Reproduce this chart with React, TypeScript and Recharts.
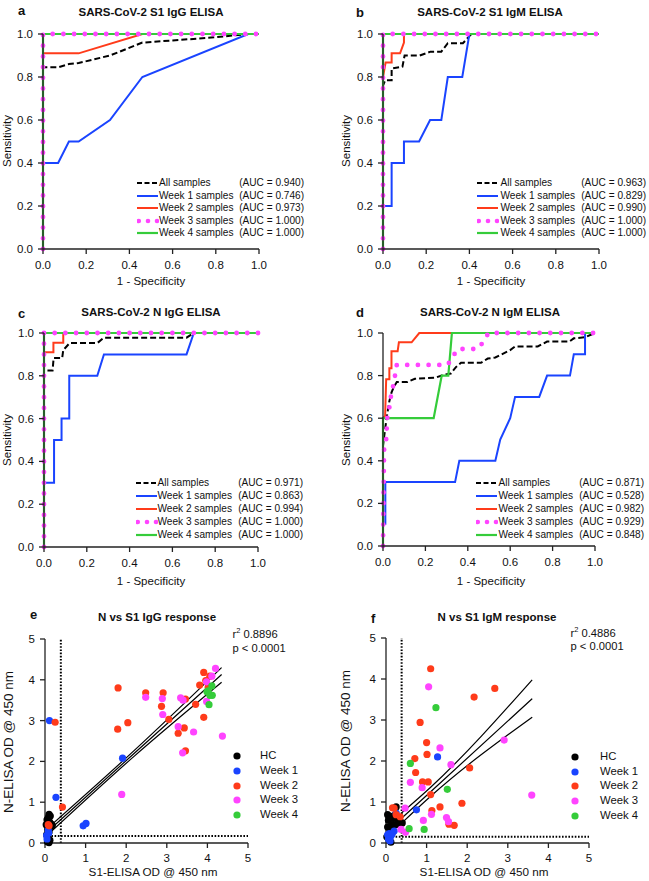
import React from 'react';
import { LineChart, Line, XAxis, YAxis, ComposedChart, Scatter, ReferenceLine } from 'recharts';

const FONT = '"Liberation Sans", Arial, Helvetica, sans-serif';

type Pt = [number, number];
const toXY = (pts: Pt[]) => pts.map(([x, y]) => ({ x, y }));

// ---- ROC curves (1 - specificity, sensitivity) ----
const rocTicks = [0, 0.2, 0.4, 0.6, 0.8, 1];
const rocNames = ['All samples', 'Week 1 samples', 'Week 2 samples', 'Week 3 samples', 'Week 4 samples'];
const aucA = ['0.940', '0.746', '0.973', '1.000', '1.000'];
const aucB = ['0.963', '0.829', '0.990', '1.000', '1.000'];
const aucC = ['0.971', '0.863', '0.994', '1.000', '1.000'];
const aucD = ['0.871', '0.528', '0.982', '0.929', '0.848'];

const perfect: Pt[] = [[0, 0], [0, 1], [1, 1]];

const aAll: Pt[] = [[0, 0], [0, 0.845], [0.07, 0.845], [0.12, 0.86], [0.165, 0.865], [0.31, 0.9], [0.46, 0.96], [0.6, 0.97], [0.8, 0.985], [0.95, 1], [1, 1]];
const aW1: Pt[] = [[0, 0], [0, 0.4], [0.07, 0.4], [0.12, 0.5], [0.165, 0.5], [0.31, 0.6], [0.46, 0.8], [0.95, 1], [1, 1]];
const aW2: Pt[] = [[0, 0], [0, 0.91], [0.165, 0.91], [0.46, 1], [1, 1]];

const bAll: Pt[] = [[0, 0], [0, 0.76], [0.01, 0.785], [0.04, 0.785], [0.04, 0.84], [0.09, 0.848], [0.1, 0.9], [0.17, 0.9], [0.22, 0.918], [0.27, 0.918], [0.3, 0.957], [0.37, 0.957], [0.4, 0.99], [0.41, 1], [1, 1]];
const bW1: Pt[] = [[0, 0], [0, 0.2], [0.04, 0.2], [0.04, 0.4], [0.097, 0.4], [0.097, 0.5], [0.167, 0.5], [0.218, 0.6], [0.27, 0.6], [0.3, 0.8], [0.367, 0.8], [0.4, 1], [1, 1]];
const bW2: Pt[] = [[0, 0], [0, 0.8], [0.012, 0.867], [0.04, 0.867], [0.04, 0.91], [0.079, 0.91], [0.097, 0.96], [0.097, 1], [1, 1]];

const cAll: Pt[] = [[0, 0], [0, 0.825], [0.04, 0.825], [0.045, 0.883], [0.085, 0.883], [0.09, 0.92], [0.12, 0.953], [0.249, 0.953], [0.28, 0.978], [0.666, 0.978], [0.7, 1], [1, 1]];
const cW1: Pt[] = [[0, 0], [0, 0.3], [0.047, 0.3], [0.047, 0.5], [0.082, 0.5], [0.082, 0.6], [0.118, 0.6], [0.118, 0.8], [0.249, 0.8], [0.28, 0.9], [0.666, 0.9], [0.7, 1], [1, 1]];
const cW2: Pt[] = [[0, 0], [0, 0.91], [0.044, 0.91], [0.044, 0.955], [0.09, 0.955], [0.09, 1], [1, 1]];

const dAll: Pt[] = [[0, 0], [0, 0.47], [0.01, 0.55], [0.02, 0.62], [0.03, 0.68], [0.04, 0.72], [0.05, 0.745], [0.065, 0.77], [0.116, 0.77], [0.15, 0.785], [0.247, 0.79], [0.29, 0.805], [0.32, 0.81], [0.344, 0.84], [0.368, 0.86], [0.462, 0.86], [0.494, 0.88], [0.53, 0.885], [0.6, 0.92], [0.623, 0.937], [0.73, 0.937], [0.774, 0.96], [0.879, 0.96], [0.9, 0.975], [0.953, 0.98], [1, 1]];
const dW1: Pt[] = [[0.011, 0.1], [0.011, 0.3], [0.34, 0.3], [0.36, 0.4], [0.53, 0.4], [0.553, 0.5], [0.6, 0.6], [0.623, 0.7], [0.737, 0.7], [0.774, 0.8], [0.882, 0.8], [0.9, 0.9], [0.953, 0.9], [0.953, 1], [1, 1]];
const dW2: Pt[] = [[0, 0], [0, 0.6], [0.01, 0.61], [0.015, 0.783], [0.03, 0.783], [0.03, 0.835], [0.04, 0.835], [0.04, 0.914], [0.069, 0.914], [0.075, 0.956], [0.135, 0.956], [0.171, 1], [1, 1]];
const dW3: Pt[] = [[0, 0], [0.005, 0.45], [0.015, 0.5], [0.02, 0.6], [0.03, 0.65], [0.04, 0.72], [0.05, 0.76], [0.065, 0.85], [0.305, 0.85], [0.352, 0.925], [0.446, 0.925], [0.475, 0.96], [0.497, 1], [1, 1]];
const dW4: Pt[] = [[0, 0], [0, 0.6], [0.239, 0.6], [0.277, 0.8], [0.308, 0.8], [0.325, 1], [1, 1]];

// ---- scatter: S1 OD (x) vs N OD (y) ----
const odTicks = [0, 1, 2, 3, 4, 5];
const groupNames = ['HC', 'Week 1', 'Week 2', 'Week 3', 'Week 4'];

const eHC: Pt[] = [[0.1, 0.7], [0.13, 0.66], [0.08, 0.62], [0.05, 0.57], [0.11, 0.52], [0.18, 0.43], [0.14, 0.4], [0.07, 0.33], [0.1, 0.27], [0.04, 0.2], [0.08, 0.12], [0.12, 0.07], [0.06, 0.03], [0.1, 0.01], [0.15, 0.47], [0.03, 0.45]];
const eW1: Pt[] = [[0.11, 3.0], [0.27, 1.12], [1.91, 2.08], [0.94, 0.42], [1.01, 0.48], [0.04, 0.19], [0.08, 0.31], [0.05, 0.1], [0.09, 0.24]];
const eW2: Pt[] = [[0.25, 2.96], [0.43, 0.88], [1.8, 3.8], [1.79, 2.79], [2.04, 2.95], [2.48, 3.68], [2.91, 3.68], [2.87, 3.35], [3.05, 3.03], [3.28, 2.69], [3.43, 2.82], [3.46, 2.26], [3.46, 3.53], [3.71, 3.4], [3.81, 3.87], [3.91, 4.18], [3.91, 3.08], [3.96, 3.98], [4.06, 4.09], [4.02, 3.82], [0.08, 0.45], [0.1, 0.42]];
const eW3: Pt[] = [[2.48, 3.57], [2.89, 3.54], [2.9, 3.15], [1.89, 1.19], [3.28, 2.85], [3.34, 3.56], [3.4, 3.5], [3.39, 2.21], [3.66, 2.72], [3.98, 3.95], [4.2, 4.28], [4.11, 4.09], [3.98, 3.47], [4.37, 2.62]];
const eW4: Pt[] = [[4.11, 3.85], [3.99, 3.71], [4.06, 3.62], [4.12, 3.62], [4.04, 3.39], [4.02, 3.73]];
const eFit: Pt[] = [[0.12, 0.33], [2.2, 2.2], [4.35, 4.13]];
const eUpper: Pt[] = [[0.12, 0.41], [2.2, 2.27], [4.35, 4.3]];
const eLower: Pt[] = [[0.12, 0.25], [2.2, 2.13], [4.35, 3.94]];
const eCut = { x: 0.39, y: 0.17 };

const fHC: Pt[] = [[0.25, 0.88], [0.04, 0.69], [0.12, 0.65], [0.19, 0.6], [0.31, 0.53], [0.16, 0.45], [0.25, 0.45], [0.04, 0.39], [0.11, 0.31], [0.02, 0.15], [0.08, 0.08], [0.12, 0.02], [0.35, 0.5], [0.4, 0.49], [0.22, 0.68], [0.06, 0.55], [0.15, 0.25], [0.28, 0.6]];
const fW1: Pt[] = [[1.27, 2.1], [0.75, 0.81], [0.25, 0.73], [0.2, 0.29], [0.08, 0.23], [0.12, 0.17], [0.04, 0.2], [0.06, 0.1], [0.1, 0.05], [0.15, 0.22]];
const fW2: Pt[] = [[1.1, 4.25], [2.68, 3.77], [2.17, 3.56], [0.84, 2.94], [1.0, 2.45], [0.71, 2.06], [1.01, 2.16], [0.73, 1.72], [0.9, 1.49], [1.04, 1.49], [1.1, 1.18], [2.06, 1.83], [1.13, 0.79], [1.33, 0.88], [1.87, 0.97], [1.55, 0.46], [1.68, 0.43], [0.16, 0.86], [0.25, 0.69], [0.35, 0.64], [0.2, 0.85]];
const fW3: Pt[] = [[1.05, 3.81], [1.33, 2.32], [1.6, 1.91], [2.91, 2.51], [3.59, 1.17], [0.6, 1.48], [0.89, 1.35], [1.12, 0.7], [0.92, 0.55], [1.49, 0.62], [1.54, 0.52], [0.47, 0.85], [0.48, 0.26], [0.37, 0.33]];
const fW4: Pt[] = [[1.23, 3.3], [0.6, 1.94], [1.51, 1.31], [0.57, 0.35], [0.94, 0.33]];
const fFit: Pt[] = [[0.38, 0.6], [1.1, 1.25], [3.6, 3.52]];
const fUpper: Pt[] = [[0.38, 0.73], [1.1, 1.36], [3.6, 3.98]];
const fLower: Pt[] = [[0.38, 0.48], [1.1, 1.14], [3.6, 3.07]];
const fCut = { x: 0.385, y: 0.15 };

// ---- styles ----
const BLUE = '#1a44ff';
const RED = '#ff3b1a';
const MAGENTA = '#ff44ff';
const GREEN = '#35cc3a';
const groupColors = ['#000000', BLUE, RED, MAGENTA, GREEN];

const rocStyle = [
  { stroke: '#000', strokeWidth: 2, dash: '6 3' },
  { stroke: BLUE, strokeWidth: 2 },
  { stroke: RED, strokeWidth: 2 },
  { stroke: MAGENTA, strokeWidth: 4.8, dash: '0 10.7', cap: 'round' },
  { stroke: GREEN, strokeWidth: 2.2 },
];
const drawOrder = [0, 1, 2, 4, 3];

const axisLine = { stroke: '#222', strokeWidth: 1.3 };

type Box = { x: number; y: number; w: number; h: number };
type Plot = { l: number; r: number; t: number; b: number };

function margins(box: Box, plot: Plot) {
  return {
    top: plot.t - box.y,
    right: box.x + box.w - plot.r,
    bottom: box.y + box.h - plot.b - 30,
    left: 0,
  };
}

// tick renderers so that the label text is exactly what the figure prints
const makeTick = (axis: 'x' | 'y', digits: number) => (p: any) => {
  const v = Number(p.payload.value);
  return (
    <text
      x={p.x}
      y={p.y}
      dy={axis === 'x' ? '0.71em' : '0.355em'}
      textAnchor={axis === 'x' ? 'middle' : 'end'}
      fill="#111"
      fontSize={11.5}
      fontFamily={FONT}
    >
      {v.toFixed(digits)}
    </text>
  );
};
const rocXTick = makeTick('x', 1);
const rocYTick = makeTick('y', 1);
const odXTick = makeTick('x', 0);
const odYTick = makeTick('y', 0);

function Txt({ x, y, size = 11.5, bold = false, anchor = 'middle', rotate = false, children }: any) {
  const tx = anchor === 'middle' ? '-50%' : anchor === 'end' ? '-100%' : '0';
  return (
    <div
      style={{
        position: 'absolute',
        left: x,
        top: y,
        fontFamily: FONT,
        fontSize: size,
        fontWeight: bold ? 700 : 400,
        lineHeight: 1,
        whiteSpace: 'nowrap',
        color: '#111',
        transform: `translate(${tx}, -50%)${rotate ? ' rotate(-90deg)' : ''}`,
      }}
    >
      {children}
    </div>
  );
}

function RocPanel({ box, plot, curves }: { box: Box; plot: Plot; curves: Pt[][] }) {
  return (
    <div style={{ position: 'absolute', left: box.x, top: box.y }}>
      <LineChart width={box.w} height={box.h} margin={margins(box, plot)}>
        <XAxis
          type="number"
          dataKey="x"
          domain={[0, 1]}
          ticks={rocTicks}
          height={30}
          axisLine={axisLine}
          tickLine={axisLine}
          tickSize={5}
          tickMargin={7}
          tick={rocXTick}
          interval={0}
        />
        <YAxis
          type="number"
          dataKey="y"
          domain={[0, 1]}
          ticks={rocTicks}
          width={plot.l - box.x}
          axisLine={axisLine}
          tickLine={axisLine}
          tickSize={5}
          tickMargin={5}
          tick={rocYTick}
          interval={0}
        />
        {drawOrder.map((i) => (
          <Line
            key={i}
            data={toXY(curves[i])}
            dataKey="y"
            type="linear"
            stroke={rocStyle[i].stroke}
            strokeWidth={rocStyle[i].strokeWidth}
            strokeDasharray={rocStyle[i].dash}
            strokeLinecap={(rocStyle[i].cap as any) || 'butt'}
            dot={false}
            activeDot={false}
            isAnimationActive={false}
          />
        ))}
      </LineChart>
    </div>
  );
}

function RocLegend({ y0, step, sampleX, textX, rightX, auc }: any) {
  return (
    <>
      {rocNames.map((name, i) => {
        const s = rocStyle[i];
        const y = y0 + step * i;
        return (
          <React.Fragment key={name}>
            <svg style={{ position: 'absolute', left: sampleX, top: y - 4 }} width={22} height={8}>
              {s.cap ? (
                [1.8, 11, 20].map((cx) => <circle key={cx} cx={cx} cy={4} r={2.3} fill={s.stroke} />)
              ) : (
                <line x1={0} x2={21} y1={4} y2={4} stroke={s.stroke} strokeWidth={s.strokeWidth} strokeDasharray={s.dash ? '5 2.5' : undefined} />
              )}
            </svg>
            <Txt x={textX} y={y} size={10.1} anchor="start">{name}</Txt>
            <Txt x={rightX} y={y} size={10.1} anchor="end">{`(AUC = ${auc[i]})`}</Txt>
          </React.Fragment>
        );
      })}
    </>
  );
}

function ScatterPanel({ box, plot, groups, fits, cut }: { box: Box; plot: Plot; groups: Pt[][]; fits: Pt[][]; cut: { x: number; y: number } }) {
  return (
    <div style={{ position: 'absolute', left: box.x, top: box.y }}>
      <ComposedChart width={box.w} height={box.h} margin={margins(box, plot)}>
        <XAxis
          type="number"
          dataKey="x"
          domain={[0, 5]}
          ticks={odTicks}
          height={30}
          axisLine={axisLine}
          tickLine={axisLine}
          tickSize={5}
          tickMargin={6}
          tick={odXTick}
          interval={0}
        />
        <YAxis
          type="number"
          dataKey="y"
          domain={[0, 5]}
          ticks={odTicks}
          width={plot.l - box.x}
          axisLine={axisLine}
          tickLine={axisLine}
          tickSize={5}
          tickMargin={5}
          tick={odYTick}
          interval={0}
        />
        {groups.map((g, i) => (
          <Scatter
            key={groupNames[i]}
            data={toXY(g)}
            isAnimationActive={false}
            shape={(p: any) => <circle cx={p.cx} cy={p.cy} r={3.6} fill={groupColors[i]} />}
          />
        ))}
        {fits.map((f, i) => (
          <Line
            key={'fit' + i}
            data={toXY(f)}
            dataKey="y"
            type="monotone"
            stroke="#000"
            strokeWidth={1.2}
            dot={false}
            activeDot={false}
            isAnimationActive={false}
          />
        ))}
        <ReferenceLine x={cut.x} stroke="#000" strokeWidth={2} strokeDasharray="1.6 1.6" />
        <ReferenceLine y={cut.y} stroke="#000" strokeWidth={2} strokeDasharray="1.6 1.6" />
      </ComposedChart>
    </div>
  );
}

function GroupLegend({ y0, step, dotX, textX }: any) {
  return (
    <>
      {groupNames.map((name, i) => {
        const y = y0 + step * i;
        return (
          <React.Fragment key={name}>
            <svg style={{ position: 'absolute', left: dotX - 5, top: y - 5 }} width={10} height={10}>
              <circle cx={5} cy={5} r={3.6} fill={groupColors[i]} />
            </svg>
            <Txt x={textX} y={y} size={11.3} anchor="start">{name}</Txt>
          </React.Fragment>
        );
      })}
    </>
  );
}

function Stats({ x, y, r2 }: any) {
  return (
    <>
      <Txt x={x} y={y} size={11.2} anchor="start">
        r<sup style={{ fontSize: 7.5, verticalAlign: 'top', position: 'relative', top: -2 }}>2</sup> {r2}
      </Txt>
      <Txt x={x} y={y + 13.5} size={11.2} anchor="start">p &lt; 0.0001</Txt>
    </>
  );
}

export default function App() {
  return (
    <div style={{ position: 'absolute', left: 0, top: 0, width: 649, height: 881, background: '#fff', overflow: 'hidden' }}>
      {/* a */}
      <RocPanel box={{ x: 0, y: 0, w: 324, h: 290 }} plot={{ l: 43, r: 259, t: 34, b: 249 }} curves={[aAll, aW1, aW2, perfect, perfect]} />
      <Txt x={18} y={10} size={13} bold anchor="start">a</Txt>
      <Txt x={151} y={12.7} bold>SARS-CoV-2 S1 IgG ELISA</Txt>
      <Txt x={8} y={141} rotate>Sensitivity</Txt>
      <Txt x={151} y={281.5}>1 - Specificity</Txt>
      <RocLegend y0={183.3} step={12.5} sampleX={137} textX={159} rightX={304} auc={aucA} />

      {/* b */}
      <RocPanel box={{ x: 324, y: 0, w: 325, h: 290 }} plot={{ l: 383, r: 599, t: 34, b: 249 }} curves={[bAll, bW1, bW2, perfect, perfect]} />
      <Txt x={356} y={12} size={13} bold anchor="start">b</Txt>
      <Txt x={490} y={12.7} bold>SARS-CoV-2 S1 IgM ELISA</Txt>
      <Txt x={347} y={141} rotate>Sensitivity</Txt>
      <Txt x={491} y={281.5}>1 - Specificity</Txt>
      <RocLegend y0={183.3} step={12.5} sampleX={477} textX={500.5} rightX={646} auc={aucB} />

      {/* c */}
      <RocPanel box={{ x: 0, y: 290, w: 324, h: 300 }} plot={{ l: 44, r: 258, t: 333, b: 547 }} curves={[cAll, cW1, cW2, perfect, perfect]} />
      <Txt x={18} y={313} size={13} bold anchor="start">c</Txt>
      <Txt x={151} y={313} bold>SARS-CoV-2 N IgG ELISA</Txt>
      <Txt x={8} y={440} rotate>Sensitivity</Txt>
      <Txt x={151} y={582}>1 - Specificity</Txt>
      <RocLegend y0={483.3} step={13} sampleX={136} textX={157.5} rightX={303} auc={aucC} />

      {/* d */}
      <RocPanel box={{ x: 324, y: 290, w: 325, h: 300 }} plot={{ l: 383, r: 595, t: 333, b: 546 }} curves={[dAll, dW1, dW2, dW3, dW4]} />
      <Txt x={356} y={312} size={13} bold anchor="start">d</Txt>
      <Txt x={490} y={313} bold>SARS-CoV-2 N IgM ELISA</Txt>
      <Txt x={347} y={440} rotate>Sensitivity</Txt>
      <Txt x={491} y={582}>1 - Specificity</Txt>
      <RocLegend y0={483.3} step={12.9} sampleX={476} textX={498.5} rightX={644} auc={aucD} />

      {/* e */}
      <ScatterPanel
        box={{ x: 0, y: 585, w: 324, h: 296 }}
        plot={{ l: 45, r: 248, t: 639, b: 843 }}
        groups={[eHC, eW1, eW2, eW3, eW4]}
        fits={[eUpper, eFit, eLower]}
        cut={eCut}
      />
      <Txt x={30} y={614} size={13} bold anchor="start">e</Txt>
      <Txt x={157} y={618} bold>N vs S1 IgG response</Txt>
      <Txt x={9} y={742} size={13.5} rotate>N-ELISA OD @ 450 nm</Txt>
      <Txt x={153} y={872} size={11.7}>S1-ELISA OD @ 450 nm</Txt>
      <Stats x={232.5} y={635} r2="0.8896" />
      <GroupLegend y0={755.7} step={14.9} dotX={236.7} textX={260} />

      {/* f */}
      <ScatterPanel
        box={{ x: 324, y: 585, w: 325, h: 296 }}
        plot={{ l: 386, r: 589, t: 638, b: 843 }}
        groups={[fHC, fW1, fW2, fW3, fW4]}
        fits={[fUpper, fFit, fLower]}
        cut={fCut}
      />
      <Txt x={371} y={618} size={13} bold anchor="start">f</Txt>
      <Txt x={497} y={618} bold>N vs S1 IgM response</Txt>
      <Txt x={346} y={741} size={13.5} rotate>N-ELISA OD @ 450 nm</Txt>
      <Txt x={484} y={872} size={11.7}>S1-ELISA OD @ 450 nm</Txt>
      <Stats x={570.5} y={633.5} r2="0.4886" />
      <GroupLegend y0={756.7} step={14.8} dotX={574.7} textX={600} />
    </div>
  );
}
